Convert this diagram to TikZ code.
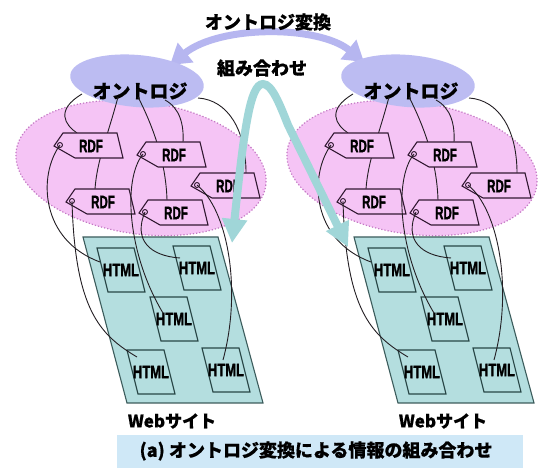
\documentclass[tikz,border=0pt]{standalone}
\usepackage{fontspec}
\usepackage{graphicx}
\usetikzlibrary{calc,arrows.meta}
\newfontfamily\jpfont{Noto Sans CJK JP}[BoldFeatures={FakeBold=0.6}]
\newfontfamily\latfont{Liberation Sans}[BoldFeatures={FakeBold=2}]
\definecolor{lavfill}{RGB}{188,188,242}
\definecolor{lavcol}{RGB}{182,182,240}
\definecolor{pinkfill}{RGB}{245,196,245}
\definecolor{pinkedge}{RGB}{196,120,196}
\definecolor{tagedge}{RGB}{50,25,50}
\definecolor{sitefill}{RGB}{180,222,223}
\definecolor{siteedge}{RGB}{60,92,92}
\definecolor{htmledge}{RGB}{40,70,70}
\definecolor{tealcol}{RGB}{160,214,216}
\definecolor{capfill}{RGB}{207,232,247}
\definecolor{wirecol}{RGB}{35,30,35}

\tikzset{
  tagshape/.style={fill=pinkfill, draw=tagedge, line width=1.1pt},
  holeshape/.style={fill=pinkfill, draw=tagedge, line width=0.9pt},
  htmlshape/.style={fill=sitefill, draw=htmledge, line width=1.1pt},
  siteshape/.style={fill=sitefill, draw=siteedge, line width=1.1pt},
  wire/.style={draw=wirecol, line width=0.9pt},
  lavarrow/.style={draw=lavcol, line width=7pt, {Triangle[length=20pt,width=24pt]}-{Triangle[length=20pt,width=24pt]}},
  tealarrow/.style={draw=tealcol, line width=8pt, {Triangle[length=24pt,width=24pt]}-{Triangle[length=24pt,width=24pt]}},
  jptext/.style={font=\jpfont\bfseries\fontsize{18pt}{20pt}\selectfont, inner sep=0pt},
  ontotext/.style={font=\jpfont\bfseries\fontsize{19pt}{21pt}\selectfont, inner sep=0pt},
  webtext/.style={font=\jpfont\bfseries\fontsize{17pt}{19pt}\selectfont, inner sep=0pt},
  rdftext/.style={font=\latfont\bfseries\fontsize{18pt}{18pt}\selectfont, inner sep=0pt},
  htmltext/.style={font=\latfont\bfseries\fontsize{18pt}{18pt}\selectfont, inner sep=0pt}
}

\newcommand\mytag[3]{%
  \begin{scope}[shift={(#2,#3)}]
    \filldraw[tagshape] (0,0) -- (9,-13) -- (63,-13) -- (69,12) -- (21,12) -- cycle;
    \filldraw[holeshape] (6,-1) circle[radius=2.5pt];
    \coordinate (#1-hole) at (6,-1);
    \node[rdftext] (#1) at (37,0) {\scalebox{0.64}[1]{RDF}};
  \end{scope}}

\newcommand\myhtml[3]{%
  \begin{scope}[shift={(#2,#3)}]
    \filldraw[htmlshape] (0,0) -- (37,0) -- (48,44) -- (11,44) -- cycle;
    \node[htmltext] (#1) at (24,22) {\scalebox{0.72}[1]{HTML}};
  \end{scope}}

\newcommand\myside[2]{%
  \begin{scope}[xshift=#2]
    \fill[pinkfill, rotate around={-8:(141,168)}] (141,168) ellipse[x radius=126pt, y radius=66pt];
    \draw[pinkedge, dotted, line width=1.2pt, rotate around={-8:(141,168)}] (141,168) ellipse[x radius=126pt, y radius=66pt];
    \fill[lavfill, rotate around={-5:(137,81)}] (137,81) ellipse[x radius=67pt, y radius=26pt];
    \filldraw[siteshape] (83,237) -- (218,237) -- (263,403) -- (127,403) -- cycle;
    \myhtml{#1-h1}{97}{248}
    \myhtml{#1-h2}{173}{246}
    \myhtml{#1-h3}{150}{297}
    \myhtml{#1-h4}{127}{350}
    \myhtml{#1-h5}{202}{348}
    \node[ontotext] (#1-ont) at (140,91) {オントロジ};
    \coordinate (#1-t1p) at (91,146);
    \coordinate (#1-t2p) at (174,155);
    \coordinate (#1-t3p) at (228,186);
    \coordinate (#1-t4p) at (103,202);
    \coordinate (#1-t5p) at (176,213);
    \draw[wire] ($(#1-ont)+(-58,3)$) .. controls (55,110) and (65,125) .. ($(#1-t1p)+(-14,-13)$);
    \draw[wire] ($(#1-ont)+(-22,6)$) .. controls (108,135) and (97,160) .. ($(#1-t4p)+(-8,-13)$);
    \draw[wire] ($(#1-ont)+(-2,6)$) .. controls (155,130) and (166,165) .. ($(#1-t5p)+(-9,-13)$);
    \draw[wire] ($(#1-ont)+(25,9)$) .. controls (180,108) and (184,125) .. ($(#1-t2p)+(9,-13)$);
    \draw[wire] ($(#1-ont)+(58,7)$) .. controls (228,100) and (246,130) .. ($(#1-t3p)+(18,-13)$);
    \mytag{#1-t1}{54}{146}
    \mytag{#1-t2}{137}{155}
    \mytag{#1-t3}{191}{186}
    \mytag{#1-t4}{66}{202}
    \mytag{#1-t5}{139}{213}
    \draw[wire] (#1-t1-hole) .. controls (38,175) and (40,240) .. ($(#1-h1)+(-21,-8)$);
    \draw[wire] (#1-t4-hole) .. controls (75,310) and (100,335) .. ($(#1-h4)+(-14,-15)$);
    \draw[wire] (#1-t5-hole) .. controls (133,240) and (150,256) .. ($(#1-h2)+(-17,-10)$);
    \draw[wire] (#1-t2-hole) .. controls (122,180) and (128,255) .. ($(#1-h3)+(-11,-6)$);
    \draw[wire] (#1-t3-hole) .. controls (228,210) and (242,290) .. ($(#1-h5)+(-3,-10)$);
    \node[webtext] (#1-web) at (172,421) {Webサイト};
  \end{scope}}

\begin{document}
\begin{tikzpicture}[x=1pt,y=-1pt]
  \useasboundingbox (0,0) rectangle (544,470);
  \fill[white] (0,0) rectangle (544,470);
  \coordinate (arrL) at (170,65);
  \coordinate (arrR) at (364,62);
  \draw[lavarrow] (arrL) .. controls (220,25) and (318,25) .. (arrR);
  \myside{L}{0pt}
  \myside{R}{271pt}
  \coordinate (tL) at (232,243);
  \coordinate (tR) at (348,247);
  \draw[tealarrow] (tL) .. controls (244,130) and (250,84) .. (263,84) .. controls (272,84) and (280,105) .. (288,125) -- (tR);
  \node[jptext] (title) at (268,22) {オントロジ変換};
  \node[jptext] (kumi) at (262,68) {組み合わせ};
  \fill[capfill] (117,435) rectangle (523,468);
  \node[jptext] (cap) at (316,451) {(a) オントロジ変換による情報の組み合わせ};
\end{tikzpicture}
\end{document}
